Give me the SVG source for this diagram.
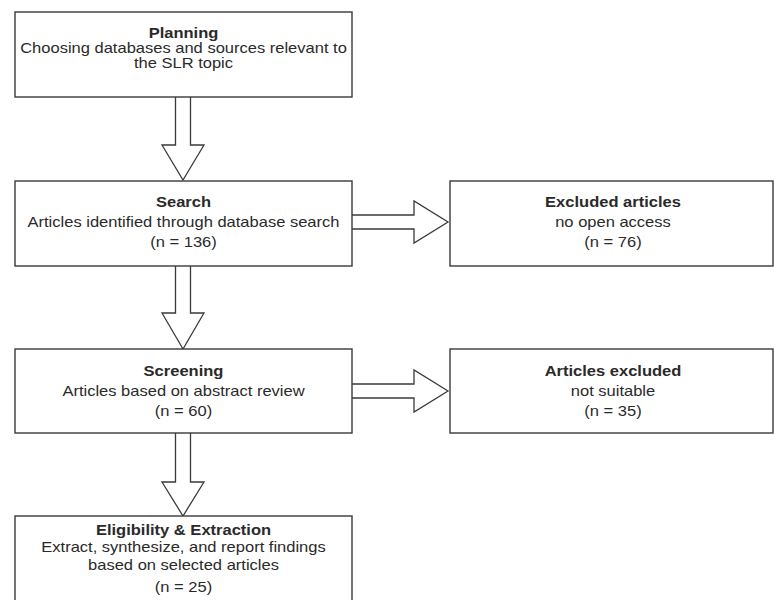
<svg xmlns="http://www.w3.org/2000/svg" width="774" height="600" viewBox="0 0 774 600">
<style>
.box{fill:#fff;stroke:#3a3a3a;stroke-width:1.4}
.arr{fill:#fff;stroke:#3a3a3a;stroke-width:1.3;stroke-linejoin:miter}
text{font-family:"Liberation Sans",Arial,sans-serif;font-size:14px;fill:#2a2a2a;text-anchor:middle}
.t{font-weight:bold}
</style>
<rect width="774" height="600" fill="#fff"/>
<g id="connectors">
<path class="arr" d="M175.5,97 V145 H162 L183,180 L204,145 H190.5 V97"/>
<path class="arr" d="M175.5,266 V313 H162 L183,349 L204,313 H190.5 V266"/>
<path class="arr" d="M175.5,433 V482 H162 L183,516 L204,482 H190.5 V433"/>
<path class="arr" d="M352,215 H414 V201 L448,222 L414,243 V229 H352"/>
<path class="arr" d="M352,384 H414 V370 L448,391 L414,412 V398 H352"/>
</g>
<g id="planning">
<rect class="box" x="15" y="12" width="337" height="85"/>
<g transform="translate(183.5,0) scale(1.18,1)">
<text class="t" x="0" y="38">Planning</text>
<text x="0" y="53">Choosing databases and sources relevant to</text>
<text x="0" y="68">the SLR topic</text>
</g>
</g>
<g id="search">
<rect class="box" x="15" y="181" width="337" height="85"/>
<g transform="translate(183.5,0) scale(1.18,1)">
<text class="t" x="0" y="207">Search</text>
<text x="0" y="227">Articles identified through database search</text>
<text x="0" y="247">(n = 136)</text>
</g>
</g>
<g id="excluded">
<rect class="box" x="450" y="181" width="323" height="85"/>
<g transform="translate(613,0) scale(1.18,1)">
<text class="t" x="0" y="207">Excluded articles</text>
<text x="0" y="227">no open access</text>
<text x="0" y="247">(n = 76)</text>
</g>
</g>
<g id="screening">
<rect class="box" x="15" y="349" width="337" height="84"/>
<g transform="translate(183.5,0) scale(1.18,1)">
<text class="t" x="0" y="376">Screening</text>
<text x="0" y="396">Articles based on abstract review</text>
<text x="0" y="416">(n = 60)</text>
</g>
</g>
<g id="articles-excluded">
<rect class="box" x="450" y="349" width="323" height="84"/>
<g transform="translate(613,0) scale(1.18,1)">
<text class="t" x="0" y="376">Articles excluded</text>
<text x="0" y="396">not suitable</text>
<text x="0" y="416">(n = 35)</text>
</g>
</g>
<g id="eligibility">
<rect class="box" x="15" y="516" width="337" height="100"/>
<g transform="translate(183.5,0) scale(1.18,1)">
<text class="t" x="0" y="535">Eligibility &amp; Extraction</text>
<text x="0" y="552">Extract, synthesize, and report findings</text>
<text x="0" y="570">based on selected articles</text>
<text x="0" y="592">(n = 25)</text>
</g>
</g>
</svg>
